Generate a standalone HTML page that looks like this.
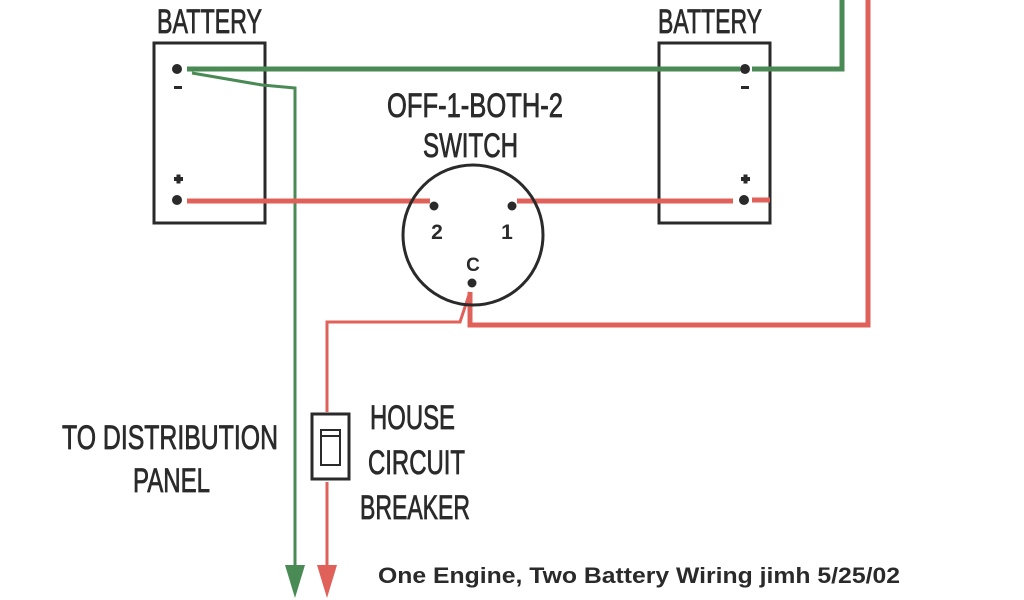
<!DOCTYPE html>
<html><head><style>
html,body{margin:0;padding:0;background:#fff;}
svg{display:block}
.t{font-family:"Liberation Sans Narrow","Liberation Sans",sans-serif;fill:#2a2a2a;font-size:34px;stroke:#2a2a2a;stroke-width:0.8px;}
</style></head><body>
<svg width="1024" height="600" viewBox="0 0 1024 600" xmlns="http://www.w3.org/2000/svg">
<rect width="1024" height="600" fill="#fff"/>
<rect x="154" y="43" width="111" height="180" fill="none" stroke="#2a2a2a" stroke-width="3"/>
<rect x="659" y="43" width="111" height="180" fill="none" stroke="#2a2a2a" stroke-width="3"/>
<text class="t" x="157" y="33" textLength="105" lengthAdjust="spacingAndGlyphs">BATTERY</text>
<text class="t" x="658" y="33" textLength="104" lengthAdjust="spacingAndGlyphs">BATTERY</text>
<text class="t" x="387" y="117" textLength="176" lengthAdjust="spacingAndGlyphs">OFF-1-BOTH-2</text>
<text class="t" x="423" y="157" textLength="95" lengthAdjust="spacingAndGlyphs">SWITCH</text>
<text class="t" x="62" y="449" textLength="216" lengthAdjust="spacingAndGlyphs">TO DISTRIBUTION</text>
<text class="t" x="133" y="492" textLength="77" lengthAdjust="spacingAndGlyphs">PANEL</text>
<text class="t" x="370" y="429" textLength="85" lengthAdjust="spacingAndGlyphs">HOUSE</text>
<text class="t" x="368" y="474" textLength="97" lengthAdjust="spacingAndGlyphs">CIRCUIT</text>
<text class="t" x="360" y="519" textLength="110" lengthAdjust="spacingAndGlyphs">BREAKER</text>
<g stroke="#4a8a55" fill="none">
<polyline points="187,69 740,69" stroke-width="5"/>
<polyline points="752,69 842,69 842,0" stroke-width="5"/>
<polyline points="192,73 262,85 295,88 295,575" stroke-width="3"/>
</g>
<polygon points="285,565 305,565 295,598" fill="#4a8a55"/>
<g stroke="#e0605a" fill="none">
<line x1="187" y1="201" x2="430" y2="201" stroke-width="5"/>
<line x1="517" y1="201" x2="733" y2="201" stroke-width="5"/>
<line x1="752" y1="200" x2="770" y2="200" stroke-width="5"/>
<polyline points="868,0 868,325 470,325 470,292" stroke-width="5"/>
<polyline points="470,292 460,322 327,322 327,412" stroke-width="3"/>
<line x1="327" y1="482" x2="327" y2="575" stroke-width="3"/>
</g>
<polygon points="317,565 337,565 327,598" fill="#e0605a"/>
<circle cx="473" cy="235" r="70" fill="none" stroke="#2a2a2a" stroke-width="3"/>
<g fill="#2a2a2a">
<circle cx="177" cy="69" r="5"/><circle cx="177" cy="200" r="5"/>
<circle cx="745" cy="69" r="5"/><circle cx="744" cy="200" r="5"/>
<circle cx="434" cy="206" r="4.5"/><circle cx="512" cy="206" r="4.5"/><circle cx="472" cy="283" r="4.5"/>
<rect x="174" y="86" width="8" height="3"/><rect x="741" y="86" width="8" height="3"/>
<rect x="174" y="177" width="9" height="4"/><rect x="176.5" y="174.5" width="4" height="9"/>
<rect x="741" y="177" width="9" height="4"/><rect x="743.5" y="174.5" width="4" height="9"/>
</g>
<g font-family="Liberation Sans" font-weight="bold" font-size="21" text-anchor="middle" fill="#2a2a2a">
<text x="437" y="239">2</text>
<text x="507" y="239">1</text>
<text x="473" y="271" font-size="19">C</text>
</g>
<rect x="312" y="414" width="37" height="65" fill="none" stroke="#2a2a2a" stroke-width="3"/>
<rect x="321" y="430" width="19" height="35" fill="none" stroke="#2a2a2a" stroke-width="2"/>
<line x1="321" y1="436" x2="340" y2="436" stroke="#2a2a2a" stroke-width="2"/>
<text x="378" y="583" font-size="22" font-weight="bold" fill="#2a2a2a" font-family="Liberation Sans Narrow, Liberation Sans, sans-serif" textLength="522" lengthAdjust="spacingAndGlyphs">One Engine, Two Battery Wiring jimh 5/25/02</text>
</svg>
</body></html>
